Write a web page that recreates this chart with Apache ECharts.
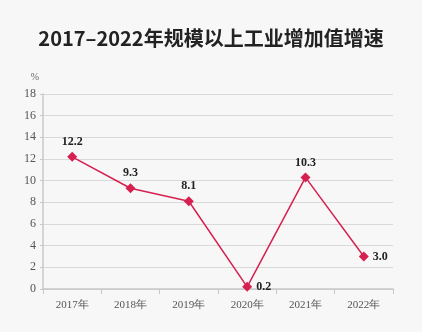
<!DOCTYPE html>
<html><head><meta charset="utf-8">
<script src="https://cdn.jsdelivr.net/npm/echarts@6/dist/echarts.min.js"></script>
<style>html,body{margin:0;padding:0;background:#f7f7f7}#c{width:422px;height:332px}</style>
</head><body><div id="c"></div>
<script>
const titleText = '2017–2022年规模以上工业增加值增速';
const categories = ['2017年','2018年','2019年','2020年','2021年','2022年'];
const growth = [12.2, 9.3, 8.1, 0.2, 10.3, 3.0];
const yTicks = [0,2,4,6,8,10,12,14,16,18];
const labelPos = ['top','top','top','right','top','right'];

const chart = echarts.init(document.getElementById('c'));
const red = '#d6204f';
chart.setOption({
  backgroundColor: '#f7f7f7',
  animation: false,
  title: {text: titleText, left: 'center', top: 23,
    textStyle: {fontFamily: 'Noto Sans CJK SC', fontWeight: 'bold', fontSize: 20, color: '#222'}},
  grid: {left: 43, right: 29, top: 94, bottom: 43},
  xAxis: {type: 'category', data: categories, boundaryGap: true,
    axisLine: {lineStyle: {color: '#c8c8c8', width: 1.5}},
    axisTick: {show: true, length: 5, lineStyle: {color: '#c8c8c8'}},
    axisLabel: {fontFamily: 'Liberation Serif', fontSize: 11, color: '#555', margin: 11}},
  yAxis: {type: 'value', min: yTicks[0], max: yTicks[yTicks.length-1], interval: 2,
    name: '%', nameLocation: 'end', nameGap: 12,
    nameTextStyle: {fontFamily: 'Liberation Serif', fontSize: 10, color: '#666', align: 'right', padding: [0, 4, 0, 0]},
    axisLine: {show: true, lineStyle: {color: '#c8c8c8', width: 1.5}},
    axisTick: {show: true, length: 3, lineStyle: {color: '#c8c8c8'}},
    splitLine: {lineStyle: {color: '#d9d9d9', width: 1.2}},
    axisLabel: {fontFamily: 'Liberation Serif', fontSize: 12, color: '#555', margin: 7}},
  series: [{type: 'line',
    data: growth.map((v, i) => ({value: v, label: {position: labelPos[i]}})),
    symbol: 'diamond', symbolSize: 10,
    lineStyle: {color: red, width: 1.5},
    itemStyle: {color: red},
    label: {show: true, distance: 4, fontFamily: 'Liberation Serif', fontWeight: 'bold', fontSize: 12, color: '#222',
      formatter: p => p.value.toFixed(1)}
  }]
});
</script></body></html>
